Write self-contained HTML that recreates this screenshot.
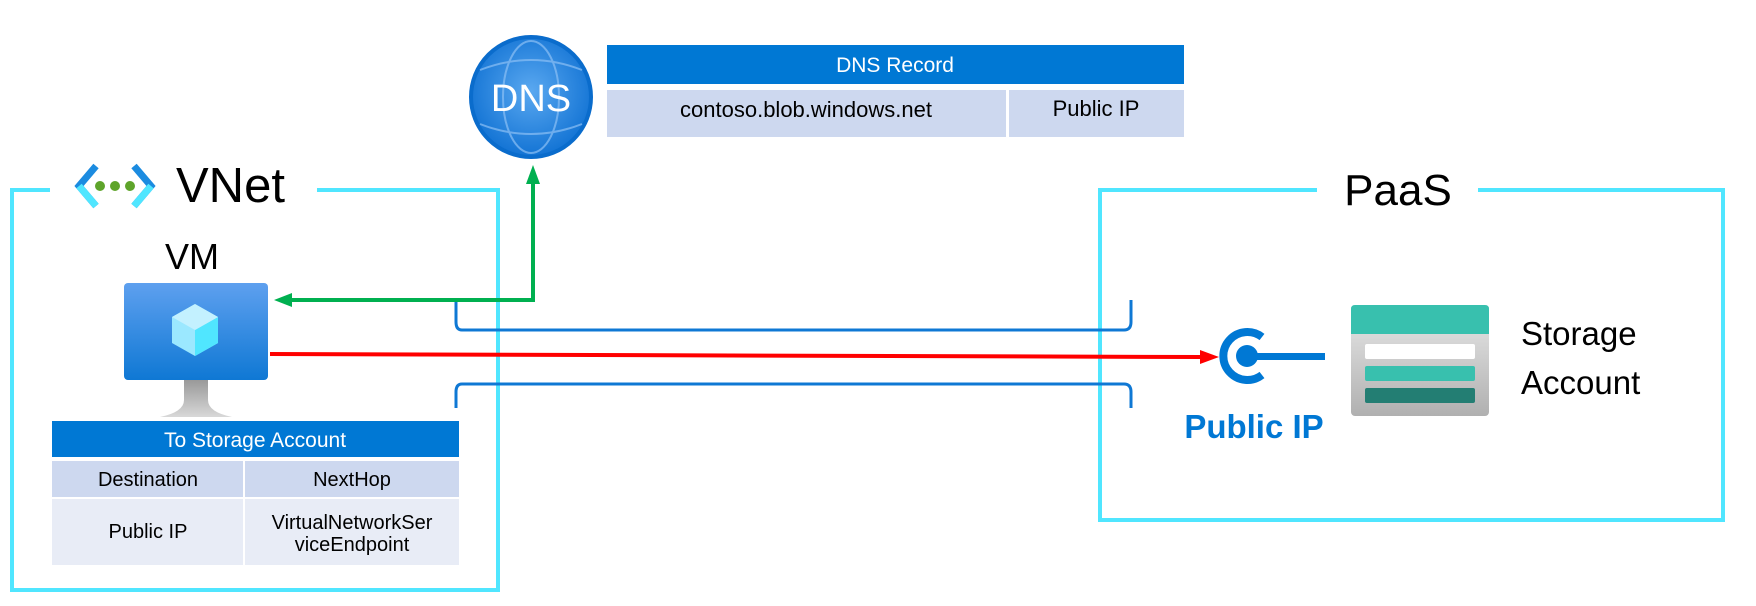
<!DOCTYPE html>
<html><head><meta charset="utf-8"><style>
html,body{margin:0;padding:0;background:#fff;}
svg{display:block;font-family:"Liberation Sans",sans-serif;}
</style></head><body>
<svg width="1756" height="606" viewBox="0 0 1756 606" xmlns="http://www.w3.org/2000/svg">
<defs>
<linearGradient id="mon" x1="0" y1="0" x2="0" y2="1"><stop offset="0" stop-color="#5ea0ef"/><stop offset="1" stop-color="#0f78d4"/></linearGradient>
<linearGradient id="stand" x1="0" y1="0" x2="0" y2="1"><stop offset="0" stop-color="#999"/><stop offset="1" stop-color="#d8d8d8"/></linearGradient>
<linearGradient id="sto" x1="0" y1="0" x2="0" y2="1"><stop offset="0" stop-color="#e8e8e8"/><stop offset="1" stop-color="#b0b0b0"/></linearGradient>
<radialGradient id="dns" cx="0.5" cy="0.45" r="0.55"><stop offset="0" stop-color="#5aa8f0"/><stop offset="1" stop-color="#1273d4"/></radialGradient>
</defs>

<path d="M50 190 H12 V590 H498 V190 H317" fill="none" stroke="#50e6ff" stroke-width="4"/>
<path d="M1317 190 H1100 V520 H1723 V190 H1478" fill="none" stroke="#50e6ff" stroke-width="4"/>

<path d="M96 166 L79 186 L96 206" fill="none" stroke="#1b8be0" stroke-width="7"/>
<path d="M79 186 L96 206" fill="none" stroke="#50e6ff" stroke-width="7"/>
<path d="M134 166 L151 186 L134 206" fill="none" stroke="#1b8be0" stroke-width="7"/>
<path d="M151 186 L134 206" fill="none" stroke="#50e6ff" stroke-width="7"/>
<circle cx="100" cy="186" r="5" fill="#5ea42a"/><circle cx="115" cy="186" r="5" fill="#5ea42a"/><circle cx="130" cy="186" r="5" fill="#5ea42a"/>
<text x="176" y="202" font-size="49" fill="#000">VNet</text>
<text x="165" y="269" font-size="36" fill="#000">VM</text>

<path d="M176 380 L184 380 L184 400 Q184 412 160 417 L232 417 Q208 412 208 400 L208 380 Z" fill="url(#stand)"/>
<rect x="124" y="283" width="144" height="97" rx="4" fill="url(#mon)"/>
<polygon points="195,304 218,317 218,343 195,356 172,343 172,317" fill="#9be8ff"/>
<polygon points="195,330 218,317 218,343 195,356" fill="#50e6ff"/>
<polygon points="195,304 218,317 195,330 172,317" fill="#c3f1ff"/>

<rect x="52" y="421" width="407" height="36" fill="#0078d4"/>
<text x="255" y="447" font-size="21" fill="#fff" text-anchor="middle">To Storage Account</text>
<rect x="52" y="461" width="191" height="36" fill="#cdd8ef"/>
<rect x="245" y="461" width="214" height="36" fill="#cdd8ef"/>
<rect x="52" y="499" width="191" height="66" fill="#e8ecf6"/>
<rect x="245" y="499" width="214" height="66" fill="#e8ecf6"/>
<text x="148" y="486" font-size="20" text-anchor="middle">Destination</text>
<text x="352" y="486" font-size="20" text-anchor="middle">NextHop</text>
<text x="148" y="538" font-size="20" text-anchor="middle">Public IP</text>
<text x="352" y="529" font-size="20" text-anchor="middle">VirtualNetworkSer</text>
<text x="352" y="551" font-size="20" text-anchor="middle">viceEndpoint</text>

<circle cx="531" cy="97" r="60" fill="url(#dns)" stroke="#0a6ccc" stroke-width="4"/>
<g fill="none" stroke="#8cc0f5" stroke-width="2" opacity="0.7">
<ellipse cx="531" cy="97" rx="28" ry="56"/>
<path d="M480 70 Q531 50 582 70"/><path d="M480 124 Q531 144 582 124"/>
</g>
<text x="531" y="111" font-size="38" fill="#fff" text-anchor="middle">DNS</text>

<rect x="607" y="45" width="577" height="39" fill="#0078d4"/>
<text x="895" y="72" font-size="21" fill="#fff" text-anchor="middle">DNS Record</text>
<rect x="607" y="90" width="399" height="47" fill="#cdd8ef"/>
<rect x="1009" y="90" width="175" height="47" fill="#cdd8ef"/>
<text x="806" y="117" font-size="22" text-anchor="middle">contoso.blob.windows.net</text>
<text x="1096" y="116" font-size="22" text-anchor="middle">Public IP</text>

<path d="M456 300 V322 Q456 330 462 330 H1124 Q1131 330 1131 322 V300" fill="none" stroke="#0f78d4" stroke-width="3"/>
<path d="M456 408 V392 Q456 384 462 384 H1124 Q1131 384 1131 392 V408" fill="none" stroke="#0f78d4" stroke-width="3"/>

<path d="M533 183 V300 H290" fill="none" stroke="#00b050" stroke-width="4"/>
<polygon points="533,165 526,184 540,184" fill="#00b050"/>
<polygon points="274,300 292,293 292,307" fill="#00b050"/>

<path d="M270 354 L1200 357" fill="none" stroke="#ff0000" stroke-width="4"/>
<polygon points="1219,357 1200,350 1200,364" fill="#ff0000"/>

<path d="M1262 337 A24 24 0 1 0 1262 375" fill="none" stroke="#0078d4" stroke-width="8"/>
<circle cx="1247" cy="356" r="11" fill="#0078d4"/>
<rect x="1247" y="353" width="78" height="7" fill="#0078d4"/>
<text x="1254" y="438" font-size="33" font-weight="bold" fill="#0078d4" text-anchor="middle">Public IP</text>

<rect x="1351" y="305" width="138" height="111" rx="4" fill="url(#sto)"/>
<path d="M1351 309 Q1351 305 1355 305 H1485 Q1489 305 1489 309 V334 H1351 Z" fill="#38c0ae"/>
<rect x="1365" y="344" width="110" height="15" rx="2" fill="#fff"/>
<rect x="1365" y="366" width="110" height="15" rx="2" fill="#38c0ae"/>
<rect x="1365" y="388" width="110" height="15" rx="2" fill="#237e73"/>
<text x="1521" y="345" font-size="33">Storage</text>
<text x="1521" y="394" font-size="33">Account</text>

<text x="1398" y="205" font-size="44" text-anchor="middle">PaaS</text>
</svg>
</body></html>
